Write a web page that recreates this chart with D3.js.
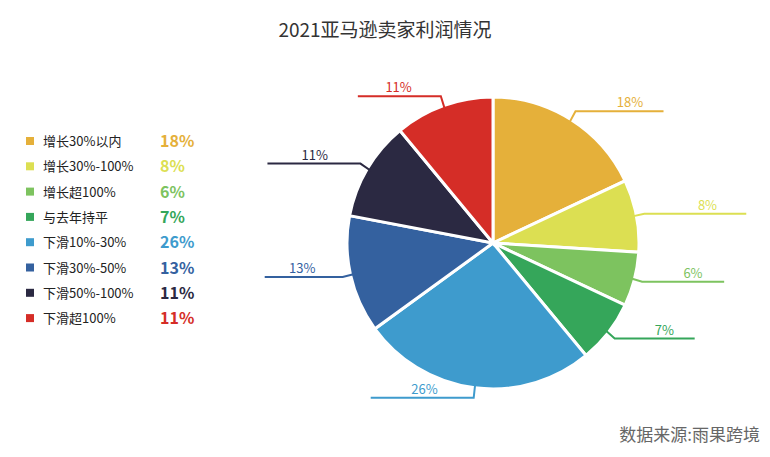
<!DOCTYPE html><html><head><meta charset="utf-8"><script src="https://cdn.jsdelivr.net/npm/d3@7"></script>
<style>body{margin:0;background:#fff}</style></head><body><svg id="c" width="770" height="457"></svg>
<script>
const categories=["增长30%以内","增长30%-100%","增长超100%","与去年持平","下滑10%-30%","下滑30%-50%","下滑50%-100%","下滑超100%"];
const values=[18,8,6,7,26,13,11,11];
const colors=["#E5B03A","#DCDF52","#7DC35F","#35A65A","#3E9BCD","#34619F","#2B2942","#D52D27"];
const font="'Noto Sans CJK SC','Noto Sans',sans-serif";
const svg=d3.select("#c").style("font-family",font);
svg.append("text").attr("x",385).attr("y",37).attr("text-anchor","middle").attr("font-size",19).attr("fill","#333").text("2021亚马逊卖家利润情况");
svg.append("text").attr("x",760).attr("y",441).attr("text-anchor","end").attr("font-size",17).attr("fill","#666").text("数据来源:雨果跨境");
const lg=svg.append("g");
categories.forEach((c,i)=>{const y=141+i*25.3;
lg.append("rect").attr("x",26).attr("y",y-4).attr("width",8).attr("height",8).attr("fill",colors[i]);
lg.append("text").attr("x",43).attr("y",y+5).attr("font-size",13).attr("fill","#222").text(c);
lg.append("text").attr("x",160).attr("y",y+6).attr("font-size",16).attr("font-weight","bold").attr("fill",colors[i]).text(values[i]+"%");});
const cx=493,cy=243,r=146;
const pie=d3.pie().sort(null).value(d=>d)(values);
const arc=d3.arc().innerRadius(0).outerRadius(r);
const g=svg.append("g").attr("transform",`translate(${cx},${cy})`);
g.selectAll("path").data(pie).join("path").attr("d",arc).attr("fill",(d,i)=>colors[i]).attr("stroke","#fff").attr("stroke-width",3);
const hl=[88,102,82,80,103,78,93,83];
pie.forEach((d,i)=>{const a=(d.startAngle+d.endAngle)/2;const s=Math.sin(a),c=-Math.cos(a);
const p0=[s*(r-4),c*(r-4)],p1=[s*(r+8),c*(r+10)];const dir=s>=0?1:-1;const p2=[p1[0]+dir*hl[i],p1[1]];
g.append("polyline").attr("points",[p0,p1,p2].map(p=>p.join(",")).join(" ")).attr("fill","none").attr("stroke",colors[i]).attr("stroke-width",2);
const lx=dir>0?p1[0]+hl[i]*0.62:p1[0]-hl[i]*0.35;
g.append("text").attr("x",lx).attr("y",p1[1]-4).attr("text-anchor",dir>0?"middle":"end").attr("font-size",13).attr("fill",colors[i]).text(values[i]+"%");});
</script></body></html>
